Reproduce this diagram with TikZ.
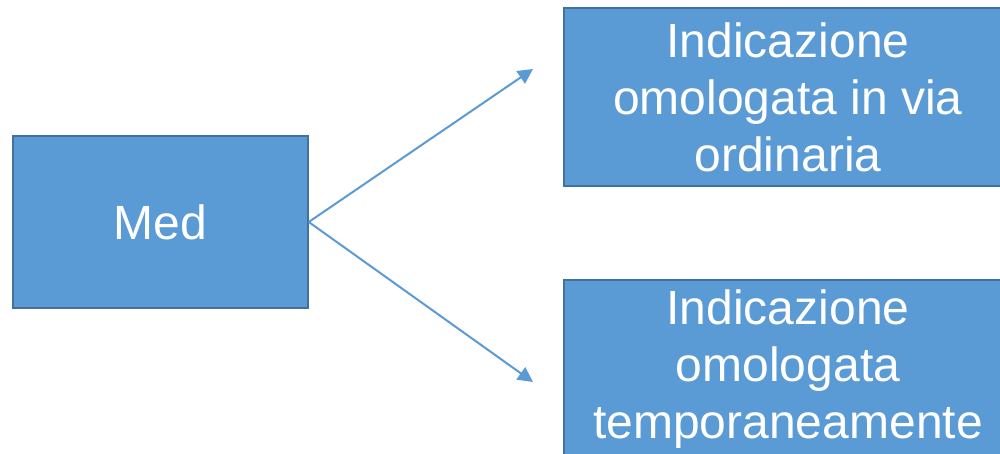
\documentclass[tikz,border=0pt]{standalone}
\usepackage{fontspec}
\setmainfont{Liberation Sans}
\usetikzlibrary{arrows.meta}
\definecolor{boxfill}{HTML}{5B9BD5}
\definecolor{boxline}{HTML}{41719C}
\tikzset{
  bluebox/.style={draw=boxline, line width=1.5pt, fill=boxfill, text=white,
    align=center, inner sep=0pt, font=\fontsize{48}{57}\selectfont},
  conn/.style={draw=boxfill, line width=2pt, -{Triangle[length=15pt,width=15pt]}}
}
\begin{document}
\begin{tikzpicture}[x=1pt,y=-1pt]
\useasboundingbox (0,0) rectangle (1000,453);
\clip (0,0) rectangle (1000,453);
\node[bluebox, minimum width=295pt, minimum height=172pt] (med) at (160.5,222) {Med};
\node[bluebox, minimum width=448pt, minimum height=178pt] (top) at (788,97) {Indicazione\\omologata in via\\ordinaria};
\node[bluebox, minimum width=448pt, minimum height=178pt] (bot) at (788,369) {Indicazione\\omologata\\temporaneamente};
\coordinate (t1) at (533,69);
\coordinate (t2) at (533,382);
\draw[conn] (med.east) -- (t1);
\draw[conn] (med.east) -- (t2);
\end{tikzpicture}
\end{document}
